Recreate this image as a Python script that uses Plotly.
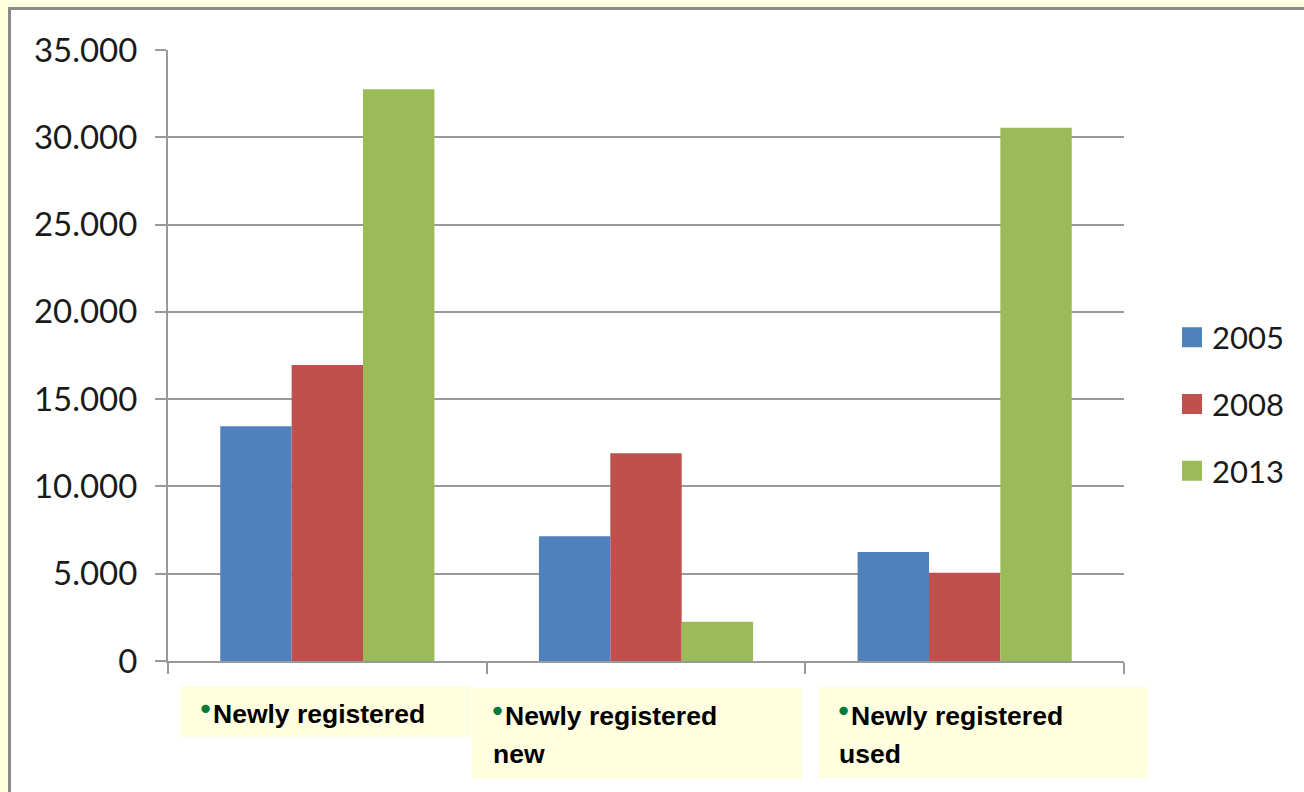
import plotly.graph_objects as go

# Registration counts per category and year
categories = ["Newly registered", "Newly registered new", "Newly registered used"]
years = ["2005", "2008", "2013"]
values_2005 = [13450, 7150, 6250]
values_2008 = [16950, 11900, 5050]
values_2013 = [32750, 2250, 30550]
y_ticks = [0, 5000, 10000, 15000, 20000, 25000, 30000, 35000]

series = [values_2005, values_2008, values_2013]
colors = ["#4F81BD", "#C0504D", "#9BBB59"]

W, H = 1304, 792
L, R, T, B = 168, 1124, 50, 661  # plot area in pixels


def px_x(p):
    return (p - L) / (R - L)


def px_y(p):
    return (B - p) / (B - T)


fig = go.Figure()
for name, vals, col in zip(years, series, colors):
    fig.add_trace(go.Bar(
        x=categories, y=vals, name=name, legendgroup=name, showlegend=False,
        marker=dict(color=col, line=dict(width=0)),
    ))
# legend entries with larger square swatches
for name, col in zip(years, colors):
    fig.add_trace(go.Scatter(
        x=[None], y=[None], mode="markers", name=name, legendgroup=name,
        marker=dict(symbol="square", size=16, color=col, line=dict(color=col, width=4)),
        hoverinfo="skip",
    ))

grid_col = "#9A9A9A"
shapes = [
    # white card with grey frame on the yellow page
    dict(type="rect", xref="paper", yref="paper", layer="below",
         x0=px_x(9.5), x1=px_x(1340), y0=px_y(830), y1=px_y(8.5),
         fillcolor="white", line=dict(color="#8A8A8A", width=3)),
]

# category label boxes (left, top, right, bottom in pixels)
boxes = [(180, 686, 471, 737), (472, 688, 802, 779), (818, 687, 1148, 778)]
text_x = [199, 491, 837]
first_line_y = [714, 716, 716]
line_gap = 38

annotations = []
for cat, (x0, y0, x1, y1), tx, ty in zip(categories, boxes, text_x, first_line_y):
    shapes.append(dict(type="rect", xref="paper", yref="paper", layer="below",
                       x0=px_x(x0), x1=px_x(x1), y0=px_y(y1), y1=px_y(y0),
                       fillcolor="#FFFFE0", line=dict(width=0)))
    words = cat.split(" ")
    lines = [" ".join(words[:2])] + ([" ".join(words[2:])] if len(words) > 2 else [])
    # green bullet in front of the first line
    annotations.append(dict(
        xref="paper", yref="paper", x=px_x(tx - 4), y=px_y(ty - 5),
        xanchor="left", yanchor="middle", showarrow=False, text="•",
        font=dict(family="DejaVu Sans", size=29, color="#007A3D"),
    ))
    for i, ln in enumerate(lines):
        xx = tx + 12 if i == 0 else tx
        annotations.append(dict(
            xref="paper", yref="paper", x=px_x(xx), y=px_y(ty + i * line_gap),
            xanchor="left", yanchor="middle", showarrow=False, text="<b>" + ln + "</b>",
            font=dict(family="Liberation Sans", size=26.5, color="#000000"),
        ))

fig.update_layout(
    width=W, height=H,
    margin=dict(l=L, r=W - R, t=T, b=H - B, pad=0),
    paper_bgcolor="#FFFFE0",
    plot_bgcolor="white",
    separators=",.",
    bargap=0.328, bargroupgap=0,
    barmode="group",
    shapes=shapes,
    annotations=annotations,
    showlegend=True,
    legend=dict(
        x=px_x(1172), y=px_y(404), xanchor="left", yanchor="middle",
        font=dict(family="Lato", size=31, color="#1A1A1A"),
        tracegroupgap=23.5, bgcolor="rgba(0,0,0,0)", itemclick=False,
        itemsizing="trace",
    ),
    xaxis=dict(
        type="category", showticklabels=False, showgrid=False,
        ticks="outside", tickson="boundaries", ticklen=11, tickwidth=2,
        tickcolor=grid_col, showline=True, linecolor=grid_col, linewidth=2,
        zeroline=False,
    ),
    yaxis=dict(
        range=[0, 35000], tickvals=y_ticks, tickformat=",d",
        showgrid=True, gridcolor=grid_col, gridwidth=2,
        ticks="outside", ticklen=11, tickwidth=2, tickcolor=grid_col,
        showline=True, linecolor=grid_col, linewidth=2, zeroline=False,
        tickfont=dict(family="Lato", size=33, color="#1A1A1A"),
        ticklabelstandoff=11,
    ),
)

fig.write_html("out.html")
